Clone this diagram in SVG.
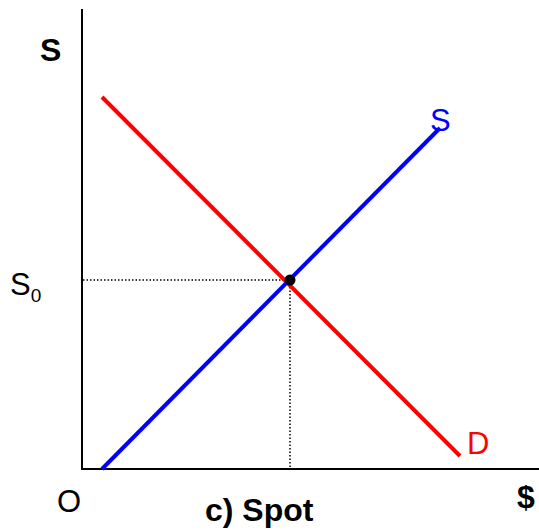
<svg xmlns="http://www.w3.org/2000/svg" width="539" height="530" viewBox="0 0 539 530">
<style>
text{font-family:"Liberation Sans",Arial,sans-serif;font-size:31px}
.b{font-weight:bold;font-size:32px}
.axis{stroke:#000;stroke-width:2;fill:none}
.guide{stroke:#000;stroke-width:1.5;stroke-dasharray:1.5 2;fill:none}
</style>
<rect width="539" height="530" fill="#fff"/>
<g id="axes">
<line class="axis" x1="82" y1="9" x2="82" y2="470"/>
<line class="axis" x1="81" y1="469" x2="539" y2="469"/>
</g>
<g id="connectors">
<line class="guide" x1="83" y1="280" x2="290" y2="280"/>
<line class="guide" x1="290" y1="280" x2="290" y2="468"/>
<line id="demand" x1="102" y1="97" x2="460" y2="456" stroke="#f00" stroke-width="4"/>
<line id="supply" x1="102" y1="469" x2="440" y2="128" stroke="#00f" stroke-width="4"/>
</g>
<g id="equilibrium"><circle cx="290" cy="280" r="5.5" fill="#000"/></g>
<g id="labels">
<text class="b" x="40" y="61">S</text>
<text x="430" y="131" fill="#00f">S</text>
<text x="467" y="454" fill="#f00">D</text>
<text x="10" y="295">S<tspan font-size="19" dy="7">0</tspan></text>
<text x="57" y="512">O</text>
<text class="b" x="205" y="521">c) Spot</text>
<text class="b" x="517" y="508">$</text>
</g>
</svg>
